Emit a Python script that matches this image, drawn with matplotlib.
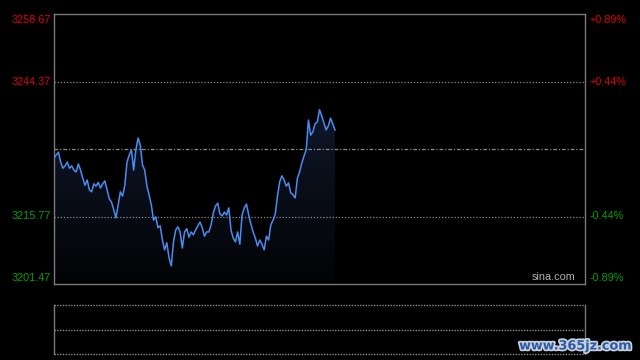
import numpy as np
import matplotlib
matplotlib.use("Agg")
import matplotlib.pyplot as plt
from matplotlib.colors import LinearSegmentedColormap
import matplotlib.patheffects as pe

plt.rcParams['font.family'] = ['Liberation Sans', 'DejaVu Sans']

prev_close = 3230.07
y_low, y_high = 3201.47, 3258.67
left_ticks = [3258.67, 3244.37, 3215.77, 3201.47]
right_ticks = ["+0.89%", "+0.44%", "-0.44%", "-0.89%"]
total_minutes = 241

prices = [
    3228.2, 3228.8, 3229.4, 3227.3, 3226.0, 3226.5, 3227.3, 3226.0, 3226.5, 3225.6,
    3225.2, 3226.9, 3225.6, 3223.9, 3222.4, 3223.5, 3221.4, 3221.0, 3222.7, 3222.2,
    3223.0, 3221.8, 3222.7, 3223.3, 3221.4, 3219.5, 3218.8, 3217.2, 3215.5, 3218.2,
    3221.0, 3220.1, 3222.4, 3227.3, 3228.8, 3229.9, 3225.6, 3229.9, 3232.4, 3230.9,
    3226.7, 3225.6, 3222.2, 3220.3, 3218.2, 3215.0, 3215.7, 3213.4, 3213.8, 3210.8,
    3208.7, 3210.2, 3207.0, 3205.3, 3210.4, 3212.9, 3213.6, 3212.5, 3209.1, 3212.5,
    3213.2, 3211.4, 3212.5, 3211.9, 3212.9, 3213.8, 3214.6, 3213.4, 3211.6, 3212.5,
    3212.5, 3214.0, 3216.5, 3218.0, 3218.6, 3216.3, 3215.9, 3216.7, 3216.1, 3217.6,
    3212.9, 3211.2, 3210.4, 3212.5, 3209.9, 3216.1, 3217.6, 3218.4, 3216.1, 3214.2,
    3212.5, 3211.2, 3209.5, 3210.8, 3209.9, 3208.7, 3211.6, 3210.8, 3214.0, 3215.0,
    3216.3, 3220.1, 3223.1, 3224.4, 3223.5, 3222.2, 3222.9, 3220.8, 3220.4, 3219.7,
    3223.9, 3225.2, 3227.1, 3228.6, 3229.9, 3236.2, 3233.0, 3233.7, 3235.4, 3235.8,
    3238.4, 3237.1, 3235.6, 3234.1, 3235.0, 3236.6, 3235.4, 3234.1,
]
minutes = np.arange(len(prices))

W, H = 640, 360
fig = plt.figure(figsize=(6.4, 3.6), dpi=100, facecolor='black')

def fx(px):
    return px / W

def fy(py):
    return 1 - py / H

ax = fig.add_axes([fx(54), fy(284), fx(585) - fx(54), fy(14) - fy(284)])
ax.set_facecolor('black')
ax.set_xlim(0, total_minutes - 1)
ax.set_ylim(y_low, y_high)
ax.set_xticks([])
ax.set_yticks([])
for s in ax.spines.values():
    s.set_color('#7a7a7a')
    s.set_linewidth(1)

# gradient fill under line
cmap = LinearSegmentedColormap.from_list('g', ['#020305', '#0f1729'])
grad = np.linspace(0, 1, 256).reshape(-1, 1)
poly = ax.fill_between(minutes, prices, y_low, color='none', lw=0)
im = ax.imshow(grad, extent=[0, total_minutes - 1, y_low, max(prices)], origin='lower',
               aspect='auto', cmap=cmap, zorder=1)
im.set_clip_path(poly.get_paths()[0], transform=ax.transData)
ax.set_ylim(y_low, y_high)
ax.set_xlim(0, total_minutes - 1)

# grid lines
for v in [3244.37, 3215.77]:
    ax.axhline(v, color='#8a8a8a', lw=0.9, ls=(0, (1, 1.5)), zorder=2)
ax.axhline(prev_close, color='#8a8a8a', lw=0.9, ls=(0, (3, 1.5, 1, 1.5)), zorder=2)

ax.plot(minutes, prices, color='#4a8cf0', lw=1.1, zorder=3)

ax.text(0.982, 0.008, 'sina.com', transform=ax.transAxes, ha='right', va='bottom',
        color='#b0b0b0', fontsize=7.8)

# axis labels
label_y = [20, 82, 216, 278]
colors = ['#e00000', '#e00000', '#00a000', '#00a000']
for v, yy, c, rt in zip(left_ticks, label_y, colors, right_ticks):
    fig.text(fx(51), fy(yy), f"{v:.2f}", ha='right', va='center', color=c, fontsize=7.8)
    fig.text(fx(590), fy(yy), rt, ha='left', va='center', color=c, fontsize=7.8)

# volume panel
ax2 = fig.add_axes([fx(54), fy(354), fx(585) - fx(54), fy(305) - fy(354)])
ax2.set_facecolor('black')
ax2.set_xlim(0, 1)
ax2.set_ylim(0, 2)
ax2.set_xticks([])
ax2.set_yticks([])
for k in ['top', 'bottom']:
    ax2.spines[k].set_visible(False)
for k in ['left', 'right']:
    ax2.spines[k].set_color('#7a7a7a')
    ax2.spines[k].set_linewidth(1)
for v in [0, 1, 2]:
    ax2.axhline(v, color='#8a8a8a', lw=1.0, ls=(0, (1, 1)), clip_on=False)

# watermark
fig.text(fx(575), fy(346), 'www.365jz.com', ha='center', va='center', color='#2a5aa8',
         fontsize=9.2, fontweight='bold', family=['DejaVu Sans'],
         path_effects=[pe.withStroke(linewidth=2.5, foreground='#c8d0dc')])

fig.savefig('out.png', dpi=100, facecolor='black')
